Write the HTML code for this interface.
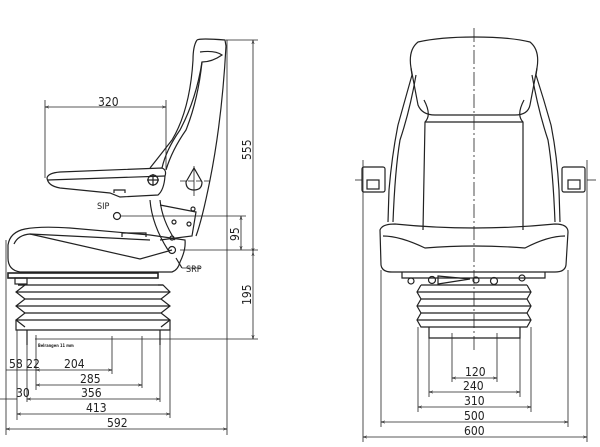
<!DOCTYPE html>
<html><head><meta charset="utf-8"><style>
html,body{margin:0;padding:0;background:#fff;}
svg{display:block;}
text{font-family:"DejaVu Sans Condensed","Liberation Sans",sans-serif;font-size:12px;fill:#222;}
</style></head><body>
<svg width="600" height="447" viewBox="0 0 600 447" xmlns="http://www.w3.org/2000/svg">
<defs>
<marker id="a" viewBox="0 0 10 10" refX="10" refY="5" markerWidth="7" markerHeight="5" orient="auto-start-reverse"><path d="M0,2 L10,5 L0,8" fill="none" stroke="#222" stroke-width="1.2"/></marker>
</defs>
<g fill="none" stroke="#222" stroke-width="1.2">
<path d="M197,40 Q200,38 225,40 L226,46 Q222,120 210,180 Q202,220 196,236"/>
<path d="M197,40 Q193,46 193,60 Q190,110 172,140 Q158,158 150,168"/>
<path d="M200,52 Q215,50 222,55 Q212,62 202,62 Q196,100 180,130 Q166,150 162,168"/>
<path d="M202,62 Q198,100 186,130 Q172,150 166,170"/>
<path d="M160,200 Q162,220 175,240"/>
<path d="M150,200 Q152,225 168,250"/>
<path d="M194,168 L186,182 Q186,190 194,190 Q202,190 202,182 Z"/>
<line x1="180" y1="181" x2="210" y2="181" stroke-dasharray="6 2" stroke-width="0.8"/>
<line x1="194" y1="166" x2="194" y2="196" stroke-width="0.8"/>
<path d="M47,178 Q48,173 60,172 L162,168 Q167,170 165,176 Q164,190 158,195 L120,197 L110,193 L60,188 Q48,186 47,178 Z"/>
<path d="M48,180 L165,176"/>
<circle cx="153" cy="180" r="5"/><line x1="147" y1="180" x2="159" y2="180"/><line x1="153" y1="174" x2="153" y2="186"/>
<path d="M114,193 L114,190 L125,190 L125,193"/>
<path d="M160,205 L196,212 L192,236 L160,240"/>
<circle cx="117" cy="216" r="3.5"/><circle cx="193" cy="209" r="2"/><circle cx="174" cy="222" r="2"/><circle cx="189" cy="224" r="2"/><circle cx="172" cy="238" r="2"/>
<circle cx="172" cy="250" r="3.5"/>
<path d="M8,245 Q10,232 25,229 Q40,226 70,228 L150,235 L185,240 Q186,250 180,262 Q178,270 172,272 L20,272 Q8,270 8,258 Z"/>
<path d="M14,244 Q18,235 30,234 L150,240"/>
<path d="M30,234 L140,259 L172,250"/>
<path d="M122,237 L122,233 L146,233 L146,237"/>
<line x1="176" y1="258" x2="182" y2="268"/>
<line x1="182" y1="268" x2="200" y2="268" stroke-width="0.8"/>
<rect x="8" y="273" width="150" height="5" stroke-width="1.6"/>
<rect x="15" y="278" width="12" height="6"/>
<path d="M18,285 L25,285 L16,292 L25,299 L16,306 L25,313 L16,320 L25,327"/>
<path d="M158,285 L163,285 L170,292 L161,299 L170,306 L161,313 L170,320 L161,327"/>
<path d="M25,292 L161,292 M16,292 L170,292 M25,299 L161,299 M16,306 L170,306 M25,313 L161,313 M16,320 L170,320 M18,285 L163,285"/>
<path d="M16,320 L16,330 L170,330 L170,320"/>
<line x1="27" y1="330" x2="27" y2="345"/><line x1="160" y1="330" x2="160" y2="345"/>
</g>
<g fill="none" stroke="#222" stroke-width="0.8">
<line x1="45" y1="100" x2="45" y2="178"/><line x1="166" y1="100" x2="166" y2="170"/>
<line x1="45" y1="107" x2="166" y2="107" marker-start="url(#a)" marker-end="url(#a)"/>
<line x1="226" y1="40" x2="258" y2="40"/><line x1="227" y1="40" x2="227" y2="435"/>
<line x1="253" y1="40" x2="253" y2="252" marker-start="url(#a)" marker-end="url(#a)"/>
<line x1="120" y1="216" x2="246" y2="216"/>
<line x1="180" y1="250" x2="258" y2="250"/>
<line x1="241" y1="216" x2="241" y2="250" marker-start="url(#a)" marker-end="url(#a)"/>
<line x1="253" y1="252" x2="253" y2="339" marker-start="url(#a)" marker-end="url(#a)"/>
<line x1="35" y1="339" x2="258" y2="339"/>
<line x1="6" y1="240" x2="6" y2="435"/><line x1="17" y1="330" x2="17" y2="420"/>
<line x1="36" y1="335" x2="36" y2="390"/><line x1="112" y1="336" x2="112" y2="374"/>
<line x1="142" y1="336" x2="142" y2="388"/><line x1="170" y1="330" x2="170" y2="418"/>
<line x1="27" y1="345" x2="27" y2="402"/><line x1="160" y1="330" x2="160" y2="402"/>
<line x1="36" y1="370" x2="112" y2="370" marker-start="url(#a)" marker-end="url(#a)"/>
<line x1="6" y1="370" x2="36" y2="370"/>
<line x1="36" y1="385" x2="142" y2="385" marker-start="url(#a)" marker-end="url(#a)"/>
<line x1="27" y1="399" x2="160" y2="399" marker-start="url(#a)" marker-end="url(#a)"/>
<line x1="0" y1="399" x2="17" y2="399"/>
<line x1="17" y1="414" x2="170" y2="414" marker-start="url(#a)" marker-end="url(#a)"/>
<line x1="6" y1="429" x2="227" y2="429" marker-start="url(#a)" marker-end="url(#a)"/>
</g>
<text x="98" y="106">320</text>
<text x="0" y="0" transform="translate(251,160) rotate(-90)">555</text>
<text x="0" y="0" transform="translate(239,241) rotate(-90)">95</text>
<text x="0" y="0" transform="translate(251,305) rotate(-90)">195</text>
<text x="97" y="209" style="font-size:9px">SIP</text>
<text x="186" y="272" style="font-size:9px">SRP</text>
<text x="38" y="347" style="font-size:4px;font-weight:bold">Belrangen 11 mm</text>
<text x="9" y="368">58 22</text>
<text x="64" y="368">204</text>
<text x="80" y="383">285</text>
<text x="81" y="397">356</text>
<text x="16" y="397">30</text>
<text x="86" y="412">413</text>
<text x="107" y="427">592</text>
<g fill="none" stroke="#222" stroke-width="1.2">
<path d="M418,42 Q440,37 474,37 Q510,37 530,42 Q540,50 537,68 L530,105 Q528,115 515,115 L435,115 Q422,115 418,105 L411,68 Q408,50 418,42 Z"/>
<path d="M411,68 L412,75 Q405,100 398,125 Q392,155 389,190 L388,222"/>
<path d="M537,68 L536,75 Q544,100 551,125 Q557,155 559,190 L560,222"/>
<path d="M416,75 Q410,110 400,140 Q395,170 393,222"/>
<path d="M532,75 Q538,110 548,140 Q553,170 555,222"/>
<path d="M424,100 Q432,115 425,122 L423,230"/><path d="M524,100 Q516,115 523,122 L523,230"/>
<line x1="425" y1="122" x2="523" y2="122"/>
<rect x="362" y="167" width="23" height="25" rx="2"/><rect x="367" y="180" width="12" height="9"/>
<rect x="562" y="167" width="23" height="25" rx="2"/><rect x="568" y="180" width="12" height="9"/>
<path d="M380,230 Q382,224 395,224 Q474,232 555,224 Q568,224 568,232 L566,265 Q565,272 555,272 L392,272 Q382,272 381,265 Z"/>
<path d="M383,236 Q400,236 425,248 Q474,244 525,248 Q548,236 565,236"/>
<path d="M402,272 L402,278 L545,278 L545,272"/>
<circle cx="411" cy="281" r="3"/><circle cx="432" cy="280" r="3.5"/><circle cx="476" cy="280" r="3"/><circle cx="494" cy="281" r="3.5"/><circle cx="522" cy="278" r="3"/>
<path d="M438,276 L470,279 L438,284 Z"/>
<path d="M421,285 L527,285 M417,292 L531,292 M421,299 L527,299 M417,306 L531,306 M421,313 L527,313 M417,320 L531,320"/>
<path d="M421,285 L417,292 L421,299 L417,306 L421,313 L417,320 L421,327 L527,327 L531,320 L527,313 L531,306 L527,299 L531,292 L527,285"/>
<path d="M429,327 L429,338 L520,338 L520,327"/>
</g>
<g fill="none" stroke="#222" stroke-width="0.8">
<line x1="474" y1="28" x2="474" y2="350" stroke-dasharray="14 3 2 3"/>
<line x1="363" y1="160" x2="363" y2="442"/><line x1="587" y1="160" x2="587" y2="442"/>
<line x1="381" y1="270" x2="381" y2="427"/><line x1="568" y1="270" x2="568" y2="427"/>
<line x1="418" y1="327" x2="418" y2="412"/><line x1="531" y1="327" x2="531" y2="412"/>
<line x1="429" y1="338" x2="429" y2="397"/><line x1="520" y1="338" x2="520" y2="397"/>
<line x1="452" y1="333" x2="452" y2="382"/><line x1="497" y1="333" x2="497" y2="382"/>
<line x1="452" y1="378" x2="497" y2="378" marker-start="url(#a)" marker-end="url(#a)"/>
<line x1="429" y1="392" x2="520" y2="392" marker-start="url(#a)" marker-end="url(#a)"/>
<line x1="418" y1="407" x2="531" y2="407" marker-start="url(#a)" marker-end="url(#a)"/>
<line x1="381" y1="422" x2="568" y2="422" marker-start="url(#a)" marker-end="url(#a)"/>
<line x1="363" y1="437" x2="587" y2="437" marker-start="url(#a)" marker-end="url(#a)"/>
<line x1="355" y1="180" x2="362" y2="180"/><line x1="587" y1="180" x2="596" y2="180"/>
</g>
<text x="465" y="376">120</text>
<text x="463" y="390">240</text>
<text x="464" y="405">310</text>
<text x="464" y="420">500</text>
<text x="464" y="435">600</text>
</svg>
</body></html>
